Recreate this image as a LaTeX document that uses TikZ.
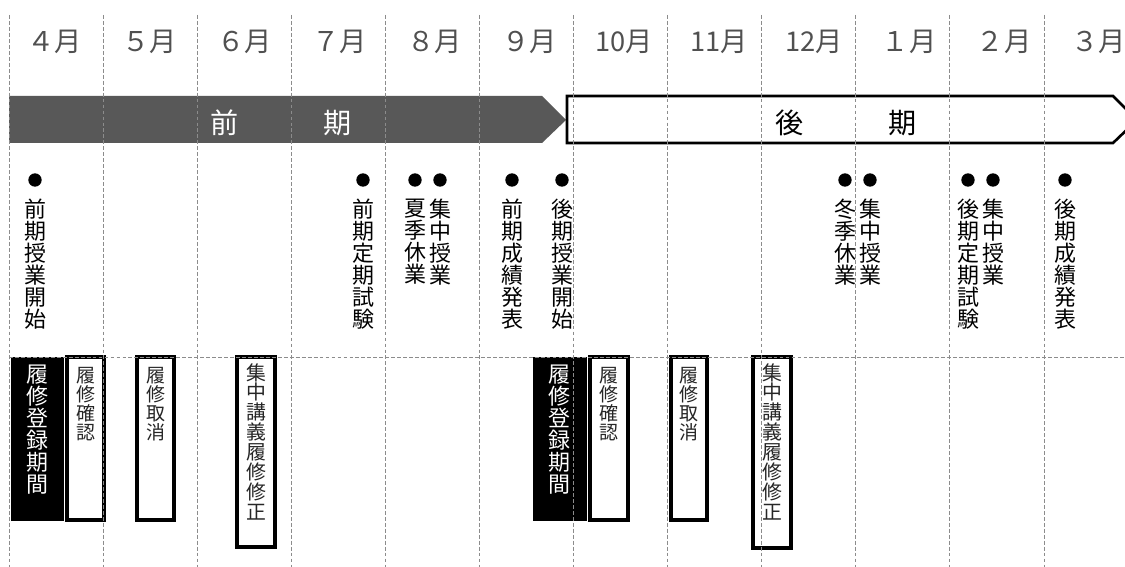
\documentclass[tikz,border=0pt]{standalone}
\usepackage{fontspec}
\newfontfamily\jpfont{Noto Sans CJK JP}
\definecolor{bandgray}{HTML}{585858}
\definecolor{monthgray}{HTML}{505050}
\definecolor{gridgray}{HTML}{8C8C8C}

\begin{document}
\begin{tikzpicture}[x=0.02cm,y=-0.02cm,
    monthlabel/.style={font=\jpfont\fontsize{15.5}{15.5}\selectfont,text=monthgray,inner sep=0pt},
    bandtext/.style={font=\jpfont\fontsize{16}{16}\selectfont,inner sep=0pt},
    evdot/.style={circle,fill=black,inner sep=0pt,minimum size=7.6pt},
    evtext/.style={anchor=north,align=center,inner sep=0pt,font=\jpfont\fontsize{12.5}{12.5}\selectfont},
    regbox/.style={fill=black},
    chkbox/.style={draw=black,line width=1.8pt,fill=white},
    boxtext/.style={anchor=north,align=center,inner sep=0pt,text=black!85}]

    \useasboundingbox (0,0) rectangle (1125,567);
    \clip (0,0) rectangle (1125,567);

    % semester bands
    \fill [bandgray] (9,96) -- (542,96) -- (566,120) -- (542,143) -- (9,143) -- cycle;
    \draw [line width=1.5pt,fill=white] (567,96) -- (1113,96) -- (1137,120) -- (1113,143) -- (567,143) -- cycle;

    \node [bandtext,text=white] (zen) at (225,123) {前};
    \node [bandtext,text=white] (zenki) at (338,123) {期};
    \node [bandtext] (kou) at (790,123) {後};
    \node [bandtext] (kouki) at (903,123) {期};

    % registration boxes
    \foreach \xa/\xb/\yb/\sty in {11/63/520/regbox, 67/104/520/chkbox, 137/174/520/chkbox, 237/275/547/chkbox,
                                  533/586/520/regbox, 590/628/520/chkbox, 671/707/520/chkbox, 753/791/548/chkbox}
        \draw [\sty] (\xa,357) rectangle (\xb,\yb);

    % grid
    \begin{scope}[gridgray,dashed,dash pattern=on 2.2pt off 1.2pt,line width=0.5pt]
    \foreach \i in {0,...,11}
        \draw (9+94.09*\i,15) -- (9+94.09*\i,567);
    \draw (9,357) -- (1125,357);
    \end{scope}

    % months
    \foreach \m [count=\i from 0] in {４月,５月,６月,７月,８月,９月,10月,11月,12月,１月,２月,３月}
        \node [monthlabel] (m\i) at (55+94.9*\i,42) {\m};

    % events
    \foreach \x/\txt [count=\i] in {35/{前\\期\\授\\業\\開\\始}, 363/{前\\期\\定\\期\\試\\験},
                                    415/{夏\\季\\休\\業}, 440/{集\\中\\授\\業},
                                    512/{前\\期\\成\\績\\発\\表}, 562/{後\\期\\授\\業\\開\\始},
                                    845/{冬\\季\\休\\業}, 870/{集\\中\\授\\業},
                                    968/{後\\期\\定\\期\\試\\験}, 993/{集\\中\\授\\業},
                                    1065/{後\\期\\成\\績\\発\\表}} {
        \node [evdot] (d\i) at (\x,180) {};
        \node [evtext] (e\i) at (\x,199) {\txt};
    }

    % box texts
    \node [boxtext,text=white,font=\jpfont\fontsize{12.5}{12.5}\selectfont] (reg1) at (37,365) {履\\修\\登\\録\\期\\間};
    \node [boxtext,font=\jpfont\fontsize{10.8}{10.8}\selectfont] (chk1) at (85.5,367) {履\\修\\確\\認};
    \node [boxtext,font=\jpfont\fontsize{10.8}{10.8}\selectfont] (can1) at (155.5,367) {履\\修\\取\\消};
    \node [boxtext,font=\jpfont\fontsize{11.3}{11.3}\selectfont] (fix1) at (256,363) {集\\中\\講\\義\\履\\修\\修\\正};

    \node [boxtext,text=white,font=\jpfont\fontsize{12.5}{12.5}\selectfont] (reg2) at (559.5,365) {履\\修\\登\\録\\期\\間};
    \node [boxtext,font=\jpfont\fontsize{10.8}{10.8}\selectfont] (chk2) at (609,367) {履\\修\\確\\認};
    \node [boxtext,font=\jpfont\fontsize{10.8}{10.8}\selectfont] (can2) at (689,367) {履\\修\\取\\消};
    \node [boxtext,font=\jpfont\fontsize{11.3}{11.3}\selectfont] (fix2) at (772,363) {集\\中\\講\\義\\履\\修\\修\\正};

\end{tikzpicture}
\end{document}
